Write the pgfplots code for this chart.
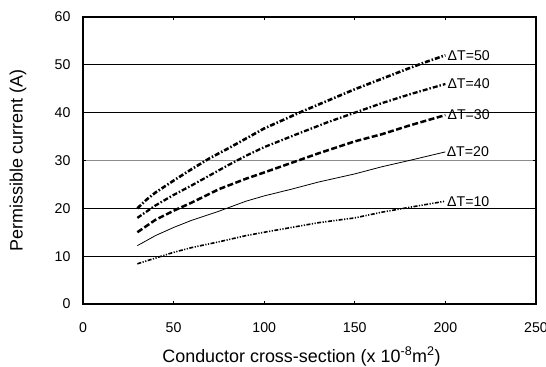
\documentclass[border=0pt]{standalone}
\usepackage{fontspec}
\setmainfont{Liberation Sans}
\usepackage{pgfplots}
\pgfplotsset{compat=1.18}
\begin{document}
\begin{tikzpicture}
\begin{axis}[
  scale only axis,
  width=453bp, height=287bp,
  xmin=0, xmax=250, ymin=0, ymax=60,
  xtick={0,50,...,250}, ytick={0,10,20,40,50,60},
  extra y ticks={30}, extra y tick labels={30},
  extra y tick style={grid style={black!45, line width=1.4pt}},
  ymajorgrids, grid style={black, line width=0.9pt},
  axis line style={black, line width=1.3pt},
  tick style={black, line width=0.8pt}, tick align=inside,
  major tick length=3pt,
  /pgf/number format/assume math mode=true,
  ticklabel style={font=\fontsize{14.2}{16}\selectfont},
  xticklabel style={yshift=-15bp},
  yticklabel style={xshift=-9bp},
  xlabel={Conductor cross-section (x 10\textsuperscript{-8}m\textsuperscript{2})},
  ylabel={Permissible current (A)},
  xlabel style={at={(axis description cs:0.5,0)}, anchor=base, yshift=-58bp, xshift=-8bp, font=\fontsize{18}{20}\selectfont},
  ylabel style={at={(axis description cs:0,0.5)}, anchor=center, yshift=65bp, font=\fontsize{18}{20}\selectfont},
  every axis plot/.append style={black},
  clip=false,
]
\addplot[line width=2.6pt, dash pattern=on 5pt off 2pt on 1.5pt off 2pt] coordinates {
(30,20) (35,21.8) (40,23.3) (50,25.8) (60,28.2) (70,30.5) (80,32.5) (90,34.6) (100,36.7) (110,38.4) (120,40.1) (135,42.5) (150,44.9) (165,47.1) (180,49.3) (190,50.7) (200,52)}
node[right, inner sep=1pt, font=\fontsize{14.2}{16}\selectfont] {ΔT=50};
\addplot[line width=2.3pt, dash pattern=on 5pt off 2pt on 1.5pt off 2pt] coordinates {
(30,18) (40,20.6) (50,22.8) (60,24.8) (70,26.9) (80,29) (90,31) (100,32.8) (110,34.3) (120,35.8) (135,38) (150,40) (165,42) (180,43.8) (200,46)}
node[right, inner sep=1pt, font=\fontsize{14.2}{16}\selectfont] {ΔT=40};
\addplot[line width=2.5pt, dash pattern=on 6pt off 2.5pt] coordinates {
(30,15) (40,17.6) (50,19.5) (60,21.2) (75,24) (90,26.2) (100,27.5) (115,29.5) (130,31.5) (150,34) (165,35.5) (180,37.3) (200,39.5)}
node[right, inner sep=1pt, font=\fontsize{14.2}{16}\selectfont] {ΔT=30};
\addplot[line width=0.8pt] coordinates {
(30,12.2) (40,14.3) (50,16) (60,17.5) (75,19.4) (90,21.5) (100,22.6) (115,24) (130,25.5) (150,27.2) (165,28.7) (180,30) (200,31.8)}
node[right, inner sep=1pt, font=\fontsize{14.2}{16}\selectfont] {ΔT=20};
\addplot[line width=1.6pt, dash pattern=on 4pt off 1.5pt on 1.2pt off 1.5pt on 1.2pt off 1.5pt] coordinates {
(30,8.4) (40,9.6) (50,10.8) (60,11.8) (75,13) (90,14.3) (100,15) (115,16) (130,17) (150,18) (165,19.2) (180,20.2) (200,21.5)}
node[right, inner sep=1pt, font=\fontsize{14.2}{16}\selectfont] {ΔT=10};
\end{axis}
\pgfresetboundingbox
\useasboundingbox (-83bp,-63bp) rectangle (463bp,304bp);
\end{tikzpicture}
\end{document}
